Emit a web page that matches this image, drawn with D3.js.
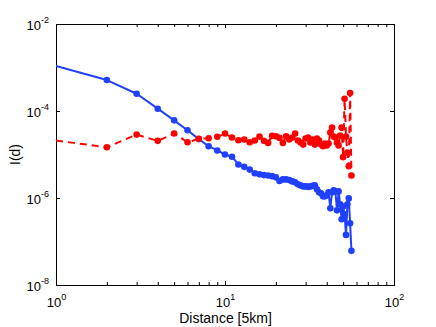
<!DOCTYPE html>
<html><head><meta charset="utf-8">
<script src="https://cdn.jsdelivr.net/npm/d3@7"></script>
<style>
body{margin:0;background:#fff}
svg{display:block}
text{font-family:"Liberation Sans",Arial,Helvetica,sans-serif;fill:#000}
</style>
</head><body>
<svg id="chart" width="436" height="327"></svg>
<script>
// ---- data ----
const distance = [1,2,3,4,5,6,7,8,9,10,11,12,13,14,15,16,17,18,19,20,
  21,22,23,24,25,26,27,28,29,30,31,32,33,34,35,36,37,38,39,40,
  41,42,43,44,45,46,47,48,49,50,51,52,53,54,55,56];
const blueValues = [1.09e-3,5.14e-4,2.49e-4,1.13e-4,6.1e-5,3.6e-5,2.26e-5,1.55e-5,1.24e-5,1.0e-5,
  8.9e-6,5.9e-6,5.2e-6,4.5e-6,3.7e-6,3.5e-6,3.36e-6,3.3e-6,3.18e-6,2.98e-6,
  2.45e-6,2.68e-6,2.68e-6,2.58e-6,2.41e-6,2.29e-6,2.06e-6,1.95e-6,1.85e-6,1.85e-6,
  1.80e-6,1.85e-6,1.90e-6,1.95e-6,1.58e-6,1.35e-6,1.28e-6,1.09e-6,1.09e-6,1.15e-6,
  1.35e-6,5.8e-7,1.35e-6,1.5e-6,1.42e-6,5.2e-7,1.42e-6,7.2e-7,3.25e-7,6.4e-7,
  4.2e-7,1.42e-7,7.2e-7,9.8e-7,2.63e-7,6.1e-8];
const redValues = [2.09e-5,1.47e-5,2.87e-5,2.06e-5,3.03e-5,1.91e-5,2.29e-5,2.37e-5,2.55e-5,3.03e-5,
  2.45e-5,2.13e-5,2.21e-5,1.91e-5,2.09e-5,2.58e-5,2.06e-5,1.85e-5,2.68e-5,2.63e-5,
  2.41e-5,1.85e-5,2.63e-5,2.21e-5,2.45e-5,3.03e-5,2.09e-5,1.88e-5,1.69e-5,2.33e-5,
  2.45e-5,1.88e-5,2.21e-5,1.69e-5,2.33e-5,2.09e-5,1.69e-5,1.55e-5,1.79e-5,1.61e-5,
  1.79e-5,3.19e-5,4.16e-5,2.58e-5,2.45e-5,1.88e-5,1.61e-5,2.72e-5,4.16e-5,8.7e-6,
  1.92e-4,2.58e-5,1.11e-5,5.4e-6,2.59e-4,3.3e-6];
const xMajorTicks = [1,10,100];
const xMajorExp = ["0","1","2"];
const xMinorTicks = [2,3,4,5,6,7,8,9,20,30,40,50,60,70,80,90];
const yMajorTicks = [1e-8,1e-6,1e-4,1e-2];
const yMajorExp = ["-8","-6","-4","-2"];
const xLabel = "Distance [5km]";
const yLabel = "I(d)";

// ---- layout ----
const L = 56, R = 394, T = 24, B = 285;
const svg = d3.select("#chart");
const x = d3.scaleLog().domain([1,100]).range([L, R]);
const y = d3.scaleLog().domain([1e-8,1e-2]).range([B, T]);

svg.append("defs").append("clipPath").attr("id","plotclip")
  .append("rect").attr("x",L).attr("y",T).attr("width",R-L+1).attr("height",B-T+1);

// axes ticks (inward)
function styleAxis(g){ g.select(".domain").remove(); g.selectAll("line").attr("stroke","#000"); g.selectAll("text").remove(); }
svg.append("g").attr("transform",`translate(0,${B})`)
  .call(d3.axisBottom(x).tickValues(xMajorTicks).tickSizeInner(-4).tickSizeOuter(0)).call(styleAxis);
svg.append("g").attr("transform",`translate(0,${B})`)
  .call(d3.axisBottom(x).tickValues(xMinorTicks).tickSizeInner(-3).tickSizeOuter(0)).call(styleAxis);
svg.append("g").attr("transform",`translate(0,${T})`)
  .call(d3.axisTop(x).tickValues(xMajorTicks).tickSizeInner(-4).tickSizeOuter(0)).call(styleAxis);
svg.append("g").attr("transform",`translate(0,${T})`)
  .call(d3.axisTop(x).tickValues(xMinorTicks).tickSizeInner(-3).tickSizeOuter(0)).call(styleAxis);
svg.append("g").attr("transform",`translate(${L},0)`)
  .call(d3.axisLeft(y).tickValues(yMajorTicks).tickSizeInner(-4).tickSizeOuter(0)).call(styleAxis);
svg.append("g").attr("transform",`translate(${R},0)`)
  .call(d3.axisRight(y).tickValues(yMajorTicks).tickSizeInner(-4).tickSizeOuter(0)).call(styleAxis);

// frame
svg.append("rect").attr("x",L+0.5).attr("y",T+0.5).attr("width",R-L).attr("height",B-T)
  .attr("fill","none").attr("stroke","#000").attr("stroke-width",1);

// tick labels
xMajorTicks.forEach((v,i)=>{
  const t = svg.append("text").attr("x",x(v)+0.5).attr("y",B+22).attr("text-anchor","middle").attr("font-size",13);
  t.append("tspan").text("10");
  t.append("tspan").attr("dy",-7).attr("font-size",9).text(xMajorExp[i]);
});
yMajorTicks.forEach((v,i)=>{
  const t = svg.append("text").attr("x",L-7).attr("y",y(v)+5.5).attr("text-anchor","end").attr("font-size",13);
  t.append("tspan").text("10");
  t.append("tspan").attr("dy",-7).attr("font-size",9).text(yMajorExp[i]);
});

// axis labels
svg.append("text").attr("x",(L+R)/2+0.5).attr("y",323).attr("text-anchor","middle").attr("font-size",14).text(xLabel);
svg.append("text").attr("transform",`translate(20,${(T+B)/2}) rotate(-90)`).attr("text-anchor","middle").attr("font-size",14).text(yLabel);

// series
const series = [
  {name:"blue", values:blueValues, color:"#2040ff", dash:null},
  {name:"red", values:redValues, color:"#ff0000", dash:"7,5"}
];
const plot = svg.append("g").attr("clip-path","url(#plotclip)");
const line = d3.line().x(d=>x(d[0])).y(d=>y(d[1]));
series.forEach(s=>{
  const pts = distance.map((d,i)=>[d, s.values[i]]);
  plot.append("path").datum(pts).attr("d",line).attr("fill","none")
    .attr("stroke",s.color).attr("stroke-width",2).attr("stroke-linejoin","round")
    .attr("stroke-dasharray",s.dash);
  plot.selectAll(null).data(pts.filter(p=>p[0]>1)).enter().append("circle")
    .attr("cx",d=>x(d[0])).attr("cy",d=>y(d[1])).attr("r",3.3).attr("fill",s.color);
});
</script>
</body></html>
